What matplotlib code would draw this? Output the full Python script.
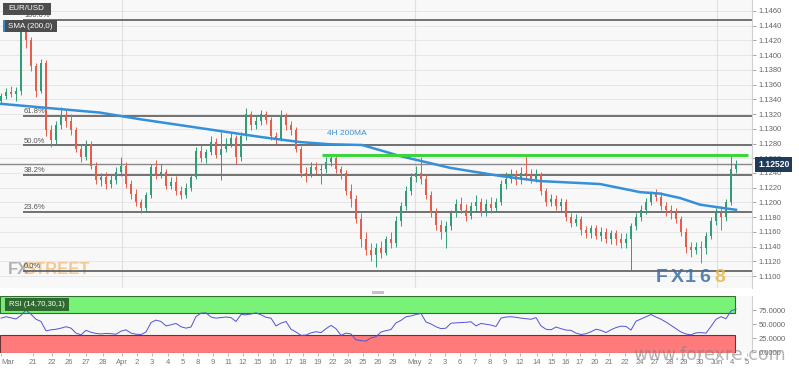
import numpy as np
import matplotlib
matplotlib.use("Agg")
import matplotlib.pyplot as plt
from matplotlib.patches import Rectangle
from matplotlib.transforms import blended_transform_factory

plt.rcParams['font.family'] = ['Liberation Sans', 'DejaVu Sans']

# ---- 4H candles (EUR/USD), one row per candle index ----
opens = [1.1338, 1.1345, 1.1350, 1.1347, 1.1352, 1.1432, 1.1420, 1.1385, 1.1352, 1.1390,
         1.1298, 1.1285, 1.1305, 1.1318, 1.1310, 1.1298, 1.1272, 1.1262, 1.1280, 1.1250,
         1.1230, 1.1235, 1.1225, 1.1230, 1.1242, 1.1250, 1.1225, 1.1212, 1.1200, 1.1192,
         1.1210, 1.1248, 1.1238, 1.1242, 1.1222, 1.1228, 1.1215, 1.1210, 1.1220, 1.1235,
         1.1270, 1.1260, 1.1268, 1.1282, 1.1265, 1.1272, 1.1280, 1.1288, 1.1262, 1.1290,
         1.1320, 1.1305, 1.1310, 1.1320, 1.1312, 1.1290, 1.1286, 1.1318, 1.1305, 1.1298,
         1.1272, 1.1240, 1.1238, 1.1248, 1.1244, 1.1245, 1.1255, 1.1260, 1.1245, 1.1240,
         1.1215, 1.1205, 1.1178, 1.1150, 1.1135, 1.1128, 1.1138, 1.1132, 1.1150, 1.1145,
         1.1175, 1.1195, 1.1215, 1.1235, 1.1240, 1.1232, 1.1210, 1.1185, 1.1170, 1.1160,
         1.1168, 1.1185, 1.1198, 1.1190, 1.1182, 1.1195, 1.1200, 1.1188, 1.1198, 1.1192,
         1.1200, 1.1225, 1.1232, 1.1238, 1.1230, 1.1240, 1.1238, 1.1232, 1.1238, 1.1215,
         1.1200, 1.1205, 1.1195, 1.1200, 1.1180, 1.1172, 1.1178, 1.1162, 1.1158, 1.1165,
         1.1155, 1.1160, 1.1150, 1.1158, 1.1150, 1.1145, 1.1150, 1.1168, 1.1180, 1.1190,
         1.1200, 1.1212, 1.1208, 1.1195, 1.1190, 1.1185, 1.1178, 1.1160, 1.1140, 1.1135,
         1.1140, 1.1138, 1.1155, 1.1175, 1.1185, 1.1180, 1.1200, 1.1245]
closes = [1.1345, 1.1350, 1.1347, 1.1352, 1.1432, 1.1420, 1.1385, 1.1352, 1.1390, 1.1298,
          1.1285, 1.1305, 1.1318, 1.1310, 1.1298, 1.1272, 1.1262, 1.1280, 1.1250, 1.1230,
          1.1235, 1.1225, 1.1230, 1.1242, 1.1250, 1.1225, 1.1212, 1.1200, 1.1192, 1.1210,
          1.1248, 1.1238, 1.1242, 1.1222, 1.1228, 1.1215, 1.1210, 1.1220, 1.1235, 1.1270,
          1.1260, 1.1268, 1.1282, 1.1265, 1.1272, 1.1280, 1.1288, 1.1262, 1.1290, 1.1320,
          1.1305, 1.1310, 1.1320, 1.1312, 1.1290, 1.1286, 1.1318, 1.1305, 1.1298, 1.1272,
          1.1240, 1.1238, 1.1248, 1.1244, 1.1245, 1.1255, 1.1260, 1.1245, 1.1240, 1.1215,
          1.1205, 1.1178, 1.1150, 1.1135, 1.1128, 1.1138, 1.1132, 1.1150, 1.1145, 1.1175,
          1.1195, 1.1215, 1.1235, 1.1240, 1.1232, 1.1210, 1.1185, 1.1170, 1.1160, 1.1168,
          1.1185, 1.1198, 1.1190, 1.1182, 1.1195, 1.1200, 1.1188, 1.1198, 1.1192, 1.1200,
          1.1225, 1.1232, 1.1238, 1.1230, 1.1240, 1.1238, 1.1232, 1.1238, 1.1215, 1.1200,
          1.1205, 1.1195, 1.1200, 1.1180, 1.1172, 1.1178, 1.1162, 1.1158, 1.1165, 1.1155,
          1.1160, 1.1150, 1.1158, 1.1150, 1.1145, 1.1150, 1.1168, 1.1180, 1.1190, 1.1200,
          1.1212, 1.1208, 1.1195, 1.1190, 1.1185, 1.1178, 1.1160, 1.1140, 1.1135, 1.1140,
          1.1138, 1.1155, 1.1175, 1.1185, 1.1180, 1.1200, 1.1245, 1.1252]
highs = [1.1348, 1.1356, 1.1358, 1.1357, 1.1438, 1.1447, 1.1425, 1.1390, 1.1395, 1.1393,
         1.1305, 1.1310, 1.1330, 1.1325, 1.1320, 1.1302, 1.1280, 1.1285, 1.1284, 1.1255,
         1.1240, 1.1242, 1.1238, 1.1248, 1.1262, 1.1255, 1.1230, 1.1218, 1.1205, 1.1214,
         1.1252, 1.1257, 1.1252, 1.1246, 1.1235, 1.1236, 1.1222, 1.1226, 1.1238, 1.1275,
         1.1278, 1.1273, 1.1290, 1.1288, 1.1296, 1.1288, 1.1295, 1.1292, 1.1295, 1.1328,
         1.1324, 1.1318, 1.1326, 1.1324, 1.1316, 1.1296, 1.1326, 1.1322, 1.1310, 1.1302,
         1.1276, 1.1248, 1.1255, 1.1255, 1.1252, 1.1262, 1.1266, 1.1265, 1.1250, 1.1244,
         1.1225, 1.1210, 1.1185, 1.1160, 1.1145, 1.1145, 1.1148, 1.1155, 1.1160, 1.1182,
         1.1200, 1.1222, 1.1240, 1.1250, 1.1262, 1.1238, 1.1215, 1.1192, 1.1176, 1.1175,
         1.1190, 1.1205, 1.1208, 1.1198, 1.1200, 1.1210, 1.1206, 1.1205, 1.1208, 1.1206,
         1.1230, 1.1242, 1.1245, 1.1244, 1.1248, 1.1264, 1.1245, 1.1245, 1.1242, 1.1220,
         1.1212, 1.1210, 1.1206, 1.1204, 1.1185, 1.1184, 1.1182, 1.1168, 1.1170, 1.1170,
         1.1166, 1.1165, 1.1162, 1.1163, 1.1158, 1.1158, 1.1172, 1.1186, 1.1196, 1.1206,
         1.1216, 1.1218, 1.1214, 1.1200, 1.1196, 1.1192, 1.1182, 1.1165, 1.1146, 1.1146,
         1.1148, 1.1160, 1.1180, 1.1192, 1.1195, 1.1205, 1.1264, 1.1258]
lows = [1.1334, 1.1341, 1.1343, 1.1338, 1.1346, 1.1410, 1.1378, 1.1343, 1.1348, 1.1290,
        1.1275, 1.1280, 1.1300, 1.1303, 1.1292, 1.1268, 1.1255, 1.1258, 1.1245, 1.1225,
        1.1222, 1.1218, 1.1220, 1.1225, 1.1236, 1.1220, 1.1205, 1.1195, 1.1185, 1.1188,
        1.1206, 1.1232, 1.1233, 1.1218, 1.1218, 1.1210, 1.1205, 1.1206, 1.1215, 1.1232,
        1.1255, 1.1254, 1.1265, 1.1260, 1.1230, 1.1268, 1.1275, 1.1252, 1.1256, 1.1285,
        1.1298, 1.1300, 1.1305, 1.1306, 1.1285, 1.1280, 1.1283, 1.1298, 1.1292, 1.1268,
        1.1235, 1.1228, 1.1234, 1.1238, 1.1225, 1.1240, 1.1250, 1.1240, 1.1232, 1.1210,
        1.1194, 1.1172, 1.1140, 1.1128, 1.1120, 1.1112, 1.1125, 1.1128, 1.1138, 1.1140,
        1.1168, 1.1190, 1.1210, 1.1228, 1.1225, 1.1205, 1.1180, 1.1162, 1.1150, 1.1138,
        1.1162, 1.1180, 1.1185, 1.1175, 1.1178, 1.1188, 1.1182, 1.1182, 1.1186, 1.1188,
        1.1196, 1.1218, 1.1226, 1.1224, 1.1225, 1.1230, 1.1226, 1.1228, 1.1210, 1.1195,
        1.1195, 1.1190, 1.1188, 1.1175, 1.1166, 1.1168, 1.1156, 1.1152, 1.1152, 1.1150,
        1.1148, 1.1145, 1.1144, 1.1142, 1.1138, 1.1138, 1.1108, 1.1162, 1.1175, 1.1184,
        1.1196, 1.1202, 1.1190, 1.1182, 1.1178, 1.1172, 1.1155, 1.1132, 1.1126, 1.1130,
        1.1118, 1.1130, 1.1150, 1.1170, 1.1163, 1.1175, 1.1196, 1.1240]

# 200-period SMA sampled along the candle index
sma_t = [-0.2, 9.8, 19.8, 27.8, 39.8, 51.8, 59.8, 65.8, 72.2, 75.8, 79.8, 89.8, 99.8,
         107.8, 119.8, 127.8, 131.8, 135.8, 139.8, 143.8, 147]
sma_v = [1.1334, 1.1328, 1.1322, 1.1313, 1.1301, 1.1289, 1.1282, 1.1279, 1.1278, 1.1271,
         1.1263, 1.1247, 1.1236, 1.1229, 1.1225, 1.1214, 1.1212, 1.1206, 1.1197, 1.1193, 1.1190]

# RSI(14), one value per candle
rsi = [61, 63.5, 61.5, 59.5, 66, 75.5, 68, 59, 55, 38, 40, 41, 43, 45.5, 43, 34, 31, 39, 35.5, 33.5,
       32.5, 33.5, 33, 32, 37.5, 40, 34, 32, 31.5, 36, 53, 57.5, 55, 47, 49, 51.5, 45.5, 43, 45, 64,
       70, 70.5, 63, 61, 62, 63, 62, 55, 67.5, 67, 68.5, 70.5, 67, 62.5, 61, 47, 52, 55, 41, 36,
       30, 30.5, 34.5, 36.5, 35, 42, 48, 42, 30, 34, 32.5, 22, 20.5, 19.5, 25.5, 27.5, 36, 38.5, 40.5, 52.5,
       57, 63.5, 65, 67.5, 69.5, 54, 50.5, 45.5, 42, 43, 52, 52.5, 53, 53.5, 54.5, 47, 51.5, 50, 48.5, 46,
       61, 63, 63.5, 62.5, 61, 60, 59, 62, 47, 41, 40, 45, 42, 39.5, 39, 34, 31.5, 33, 36.5, 41,
       39, 35, 40, 44, 46.5, 46, 39.5, 55.5, 59.5, 63.5, 67.5, 63, 59, 54, 48, 42, 36, 32.5, 31, 34.5,
       35, 34, 46, 59, 63.5, 60, 74, 77.5]

# date axis (candle index where each day label sits)
day_pos = [0.0, 6.4, 10.2, 13.6, 17.0, 20.4, 24.2, 27.2, 30.2, 33.4, 36.4, 39.4, 42.4, 45.4, 48.4,
           51.4, 54.4, 57.6, 60.4, 63.4, 66.4, 69.4, 72.4, 75.4, 78.4, 82.8, 85.8, 88.8, 91.8, 94.8,
           97.8, 100.8, 103.8, 107.2, 110.2, 113.0, 115.8, 118.8, 121.6, 124.8, 127.8, 130.8, 133.8,
           136.6, 139.8, 143.2, 146.2, 149.2]
day_lab = ['Mar', '21', '22', '26', '27', '28', 'Apr', '2', '3', '4', '5', '8', '9', '11', '12',
           '15', '16', '17', '18', '19', '22', '24', '25', '26', '29', 'May', '2', '3', '6', '7',
           '8', '9', '12', '14', '15', '16', '17', '20', '21', '22', '24', '27', '28', '29', '30',
           'Jun', '4', '5']
month_pos = [24.2, 82.8, 143.2]

fib_high = 1.1448
fib_low = 1.1107
fib_ratios = [1.0, 0.618, 0.5, 0.382, 0.236, 0.0]
last_price = 1.1252
resistance = 1.1265
res_start = 64.2

W, H = 799, 369
fig = plt.figure(figsize=(W / 100, H / 100), dpi=100)
fig.patch.set_facecolor('white')


def fx(px):
    return px / W


def fy(py):
    return 1 - py / H


# ---------------- price panel ----------------
ax = fig.add_axes([0, fy(288), fx(752), 288 / H])
ax.set_facecolor('#f8f8f8')
ax.set_xlim(-0.2, 150.2)
ax.set_ylim(1.10838, 1.14749)

yt = np.arange(1.1100, 1.14601, 0.002)
ax.set_yticks(yt)
ax.set_yticklabels(['%.4f' % v for v in yt])
ax.yaxis.tick_right()
ax.tick_params(axis='y', length=3, width=0.6, color='#999999', labelsize=5.5,
               labelcolor='#666666', pad=2)
ax.set_xticks([])
for v in yt:
    ax.axhline(v, color='#e6e6e6', lw=0.7, zorder=0)
for m in month_pos:
    ax.axvline(m, color='#e0e0e0', lw=0.8, zorder=0)
for s in ['top', 'left', 'bottom']:
    ax.spines[s].set_visible(False)
ax.spines['right'].set_color('#d0d0d0')

# fibonacci retracement
for r in fib_ratios:
    lvl = fib_low + r * (fib_high - fib_low)
    ax.hlines(lvl, 4.4, 150.2, color='#5a5a5a', lw=1.2, zorder=2)
    ax.annotate('%.1f%%' % (r * 100), (4.6, lvl), xytext=(0, 0.5), textcoords='offset points',
                fontsize=5.5, color='#555555', va='bottom', ha='left', zorder=3)

# last price line
ax.axhline(last_price, color='#888888', lw=1.0, zorder=2)

# candles
t = np.arange(len(closes))
o = np.array(opens)
c = np.array(closes)
up = c >= o
cols = np.where(up, '#2f9e78', '#e85c4a')
ax.vlines(t, lows, highs, colors=cols, lw=0.7, zorder=4)
body = np.maximum(np.abs(c - o), 0.00006)
ax.bar(t, body, bottom=np.minimum(o, c), width=0.55, color=cols, zorder=5, linewidth=0)

# SMA 200
ax.plot(sma_t, sma_v, color='#3490d8', lw=1.8, zorder=6)
ax.text(65.2, 1.1292, '4H 200MA', color='#3b8fd0', fontsize=6, zorder=7)

# resistance line
ax.hlines(resistance, res_start, 149.4, color='#3fd33f', lw=2.2, zorder=6)

# last price tag
tr = blended_transform_factory(ax.transAxes, ax.transData)
ax.text(1.008, last_price, '1.12520', transform=tr, ha='left', va='center', fontsize=6.2,
        fontweight='bold', color='white',
        bbox=dict(boxstyle='square,pad=0.35', fc='#1e3b5a', ec='none'), clip_on=False)

# watermarks
ax.text(8 / 752, 1 - 270 / 288, 'FX', transform=ax.transAxes, fontsize=12, fontweight='bold',
        color='#9a9a9a', alpha=0.75, va='center', ha='left', zorder=1)
ax.text(25 / 752, 1 - 270 / 288, 'STREET', transform=ax.transAxes, fontsize=12, fontweight='bold',
        color='#f0a850', alpha=0.6, va='center', ha='left', zorder=1)
logo_chars = ['F', 'X', '1', '6', '8']
logo_cols = ['#3a6fa8', '#3a6fa8', '#3a6fa8', '#3a6fa8', '#e6b84a']
for k, (ch, cl) in enumerate(zip(logo_chars, logo_cols)):
    ax.text((656 + 14.5 * k) / 752, 1 - 278 / 288, ch, transform=ax.transAxes, fontsize=14,
            fontweight='bold', color=cl, alpha=0.85, va='center', ha='left', zorder=7)

# ---------------- RSI panel ----------------
ax2 = fig.add_axes([0, fy(353), fx(752), 57 / H])
ax2.set_facecolor('#f8f8f8')
ax2.set_xlim(-0.2, 150.2)
ax2.set_ylim(-1.8, 100.9)
ax2.add_patch(Rectangle((-0.2, 70), 147.0, 31, fc='#78f378', ec='#2f6f2f', lw=0.8, zorder=1))
ax2.add_patch(Rectangle((-0.2, -1.8), 147.0, 31.8, fc='#ff7b7b', ec='#6a3434', lw=0.8, zorder=1))
ax2.plot(t, rsi, color='#5252d8', lw=0.7, zorder=3)
ax2.set_yticks([0, 25, 50, 75])
ax2.set_yticklabels(['0.0000', '25.0000', '50.0000', '75.0000'])
ax2.yaxis.tick_right()
ax2.tick_params(axis='y', length=3, width=0.6, color='#999999', labelsize=5.5,
                labelcolor='#666666', pad=2)
ax2.set_xticks(day_pos)
ax2.set_xticklabels(day_lab)
ax2.tick_params(axis='x', length=2, width=0.6, color='#aaaaaa', labelsize=5.5,
                labelcolor='#777777', pad=2)
ax2.get_xticklabels()[0].set_horizontalalignment('left')
for s in ['top', 'left', 'bottom']:
    ax2.spines[s].set_visible(False)
ax2.spines['right'].set_color('#d0d0d0')

# panel separator handle
fig.add_artist(Rectangle((fx(372), fy(294)), 12 / W, 3 / H, transform=fig.transFigure,
                         fc='#c4c4c4', ec='none'))

# legend boxes
fig.add_artist(Rectangle((fx(3), fy(15)), 48 / W, 12 / H, transform=fig.transFigure,
                         fc='#4d4d4d', ec='none', zorder=10))
fig.text(fx(8), fy(9), 'EUR/USD', color='white', fontsize=5.8, va='center', zorder=11)
fig.add_artist(Rectangle((fx(3), fy(32)), 54 / W, 12 / H, transform=fig.transFigure,
                         fc='#4d4d4d', ec='none', zorder=10))
fig.add_artist(Rectangle((fx(3), fy(32)), 2 / W, 12 / H, transform=fig.transFigure,
                         fc='#2e8bd6', ec='none', zorder=11))
fig.text(fx(8), fy(26), 'SMA (200,0)', color='white', fontsize=5.8, va='center', zorder=11)
fig.add_artist(Rectangle((fx(3), fy(311)), 66 / W, 13 / H, transform=fig.transFigure,
                         fc='#2f6a2f', ec='none', zorder=10))
fig.add_artist(Rectangle((fx(3), fy(311)), 2 / W, 13 / H, transform=fig.transFigure,
                         fc='#7de27d', ec='none', zorder=11))
fig.text(fx(9), fy(304.5), 'RSI (14,70,30,1)', color='white', fontsize=5.5, va='center', zorder=11)

fig.text(fx(633), fy(355), 'www.forexre.com', color='#7a7a7a', alpha=0.55, fontsize=12.6,
         family='DejaVu Sans', va='center', ha='left', zorder=12)

fig.savefig('out.png', dpi=100)
